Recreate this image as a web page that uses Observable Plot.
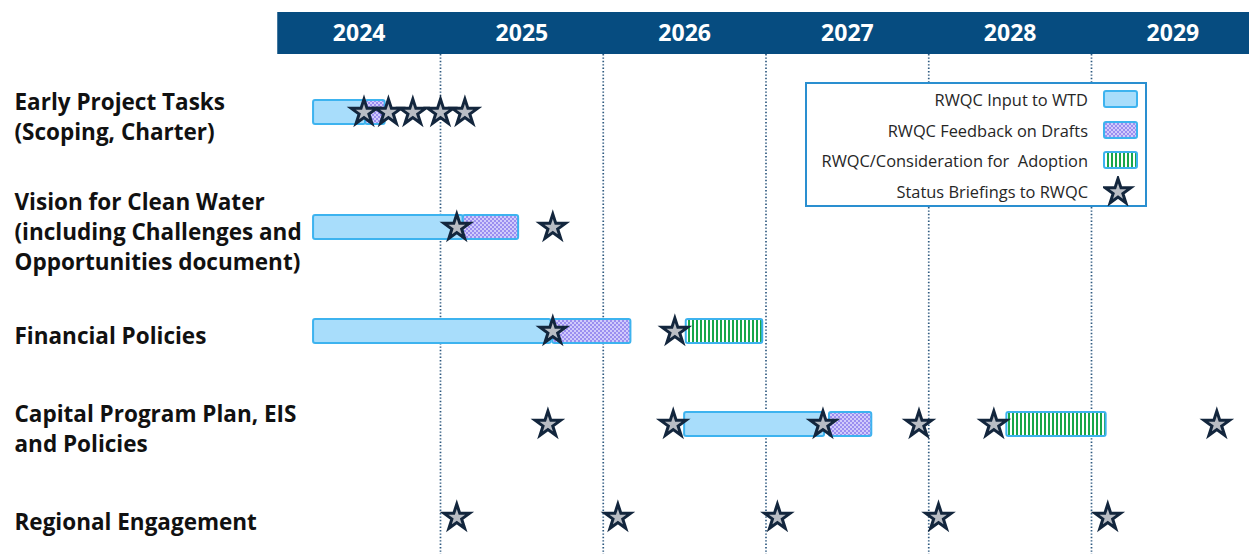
<!DOCTYPE html>
<html>
<head>
<meta charset="utf-8">
<script src="https://cdn.jsdelivr.net/npm/d3@7"></script>
<script src="https://cdn.jsdelivr.net/npm/@observablehq/plot@0.6"></script>
<style>
  html, body { margin: 0; padding: 0; background: #fff; overflow: hidden; }
  #wrap { position: relative; width: 1249px; height: 554px; }
  #legend {
    position: absolute; left: 805px; top: 82px; width: 338px; height: 121px;
    border: 2px solid #2a8fd0; background: #fff;
    font-family: "Open Sans", sans-serif; font-size: 16.4px; color: #262626;
  }
  .lrow { position: absolute; left: 0; width: 338px; height: 30px; }
  .lrow span { position: absolute; right: 57px; top: 50%; transform: translateY(-50%); white-space: pre; }
  .lrow svg { position: absolute; left: 296px; top: 0; }
</style>
</head>
<body>
<svg width="0" height="0" style="position:absolute">
  <defs>
    <pattern id="pat-feedback" patternUnits="userSpaceOnUse" width="4" height="4">
      <rect width="4" height="4" fill="#9b8ef0"></rect>
      <circle cx="1" cy="1" r="1" fill="#e4e0ff"></circle>
      <circle cx="3" cy="3" r="1" fill="#e4e0ff"></circle>
    </pattern>
    <pattern id="pat-adoption" patternUnits="userSpaceOnUse" width="4" height="4">
      <rect width="4" height="4" fill="#ffffff"></rect>
      <rect width="2" height="4" fill="#18a64a"></rect>
    </pattern>
  </defs>
</svg>
<div id="wrap"></div>
<script>
// ---------- data ----------
const years = [2024, 2025, 2026, 2027, 2028, 2029];
const tasks = [
  "Early Project Tasks\n(Scoping, Charter)",
  "Vision for Clean Water\n(including Challenges and\nOpportunities document)",
  "Financial Policies",
  "Capital Program Plan, EIS\nand Policies",
  "Regional Engagement"
];
const phases = ["RWQC Input to WTD", "RWQC Feedback on Drafts", "RWQC/Consideration for  Adoption"];
const briefingLabel = "Status Briefings to RWQC";

// bars: task index, phase index, start and end (fractional year)
const barTask  = [0, 0, 1, 1, 2, 2, 2, 3, 3, 3];
const barPhase = [0, 1, 0, 1, 0, 1, 2, 0, 1, 2];
const barStart = [2024.22, 2024.54, 2024.22, 2025.14, 2024.22, 2025.69, 2026.51, 2026.50, 2027.39, 2028.48];
const barEnd   = [2024.54, 2024.66, 2025.14, 2025.48, 2025.68, 2026.17, 2026.98, 2027.36, 2027.65, 2029.09];

// status briefings (stars)
const starTask = [0, 0, 0, 0, 0, 1, 1, 2, 2, 3, 3, 3, 3, 3, 3, 4, 4, 4, 4, 4];
const starDate = [2024.53, 2024.68, 2024.83, 2025.00, 2025.15,
                  2025.10, 2025.69,
                  2025.69, 2026.44,
                  2025.66, 2026.43, 2027.35, 2027.94, 2028.40, 2029.77,
                  2025.10, 2026.09, 2027.07, 2028.06, 2029.10];

// ---------- layout ----------
const W = 1249, H = 554;
const headerTop = 12, headerBottom = 54;
const labelSize = 22.5;
const lineH = 30, lineWeight = 22, rowGap = 60, topGap = 31, barOffset = -3, barHalf = 12;
const nLines = tasks.map(t => t.split("\n").length);
const centers = [];
nLines.forEach((n, i) => {
  if (i === 0) centers.push(headerBottom + topGap + n * lineH / 2);
  else centers.push(centers[i - 1] + (nLines[i - 1] + n) * lineWeight / 2 + rowGap);
});
const rowY = i => centers[i] + barOffset;

const phaseFill = ["#a8ddfb", "url(#pat-feedback)", "url(#pat-adoption)"];
const bars = barTask.map((t, i) => ({task: t, phase: barPhase[i], start: barStart[i], end: barEnd[i]}));
const stars = starTask.map((t, i) => ({task: t, date: starDate[i]}));
const labels = tasks.map((t, i) => ({text: t, i}));

const fontFam = "'Open Sans', sans-serif";
const starFill = "#b9bdc4", starStroke = "#13263d";
const starR = 8;

const chart = Plot.plot({
  width: W, height: H,
  marginTop: 0, marginRight: 0, marginBottom: 0, marginLeft: 0,
  x: {domain: [2024, 2030], range: [277.25, 1253.75], axis: null},
  y: {domain: [0, H], range: [0, H], axis: null},
  style: {fontFamily: fontFam, background: "#fff", overflow: "hidden"},
  marks: [
    // header band
    Plot.rect([0], {x1: years[0], x2: years[years.length - 1] + 1, y1: headerTop, y2: headerBottom, fill: "#064c80"}),
    Plot.text(years, {x: d => d + 0.5, y: (headerTop + headerBottom) / 2, text: d => String(d),
      fill: "#fff", fontWeight: "bold", fontSize: 23, textAnchor: "middle"}),
    // year boundaries
    Plot.ruleX(years.slice(1), {y1: headerBottom, y2: H, stroke: "#2f5a80", strokeWidth: 1.7, strokeDasharray: "1.4,2"}),
    // task labels
    Plot.text(labels, {frameAnchor: "left", dx: 14, y: d => centers[d.i], text: "text",
      textAnchor: "start", lineAnchor: "middle", lineHeight: lineH / labelSize, fontSize: labelSize, fontWeight: "bold", fill: "#111"}),
    // bars
    Plot.rect(bars, {x1: "start", x2: "end", y1: d => rowY(d.task) - barHalf, y2: d => rowY(d.task) + barHalf,
      fill: d => phaseFill[d.phase], stroke: "#3db3ef", strokeWidth: 2, rx: 2}),
    // stars
    Plot.dot(stars, {x: "date", y: d => rowY(d.task), symbol: "star", r: starR,
      fill: starFill, stroke: starStroke, strokeWidth: 3})
  ]
});
const wrap = document.getElementById("wrap");
wrap.appendChild(chart);

// ---------- legend ----------
const legend = document.createElement("div");
legend.id = "legend";
const items = phases.map((p, i) => ({label: p, kind: "bar", fill: phaseFill[i]}))
  .concat([{label: briefingLabel, kind: "star"}]);
const starPath = d3.symbol(d3.symbolStar, Math.PI * starR * starR)();
items.forEach((it, i) => {
  const row = document.createElement("div");
  row.className = "lrow";
  row.style.top = (i * 30.7) + "px";
  const sp = document.createElement("span");
  sp.textContent = it.label;
  row.appendChild(sp);
  const ns = "http://www.w3.org/2000/svg";
  const svg = document.createElementNS(ns, "svg");
  svg.setAttribute("width", 40); svg.setAttribute("height", 30);
  if (it.kind === "bar") {
    const r = document.createElementNS(ns, "rect");
    r.setAttribute("x", 1); r.setAttribute("y", 7); r.setAttribute("width", 33); r.setAttribute("height", 16);
    r.setAttribute("rx", 2); r.setAttribute("fill", it.fill); r.setAttribute("stroke", "#3db3ef"); r.setAttribute("stroke-width", 2);
    svg.appendChild(r);
  } else {
    const pth = document.createElementNS(ns, "path");
    pth.setAttribute("d", starPath);
    pth.setAttribute("transform", "translate(15,16)");
    pth.setAttribute("fill", starFill); pth.setAttribute("stroke", starStroke); pth.setAttribute("stroke-width", 3);
    svg.appendChild(pth);
  }
  row.appendChild(svg);
  legend.appendChild(row);
});
wrap.appendChild(legend);
</script>
</body>
</html>
